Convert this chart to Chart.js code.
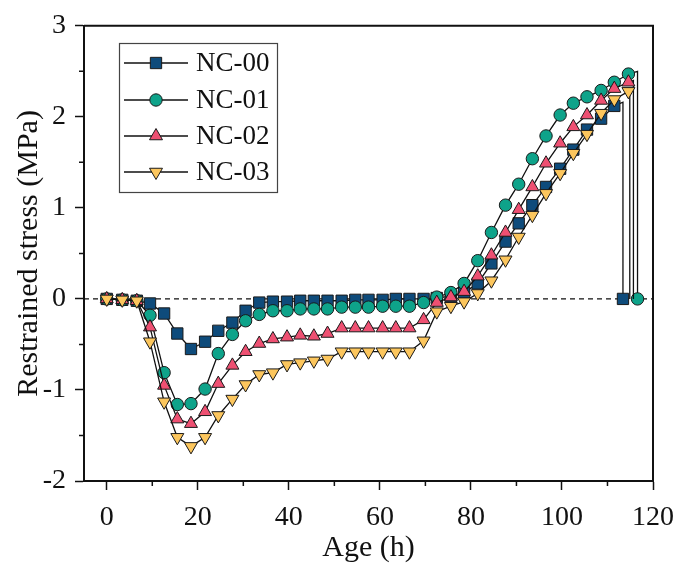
<!DOCTYPE html>
<html>
<head>
<meta charset="utf-8">
<script src="https://cdn.jsdelivr.net/npm/chart.js@4.4.0/dist/chart.umd.min.js"></script>
<style>
    html, body { margin: 0; padding: 0; background: #fff; }
    canvas { display: block; }
</style>
</head>
<body>
<canvas id="stressChart" width="691" height="566"></canvas>
<script>
// ====== DATA ======
const ageHours = [
    0, 3.4, 6.6, 9.5, 12.6, 15.5, 18.5, 21.6, 24.5, 27.6, 30.5, 33.5, 36.5,
    39.6, 42.5, 45.5, 48.5, 51.6, 54.6, 57.5, 60.6, 63.5, 66.5, 69.6, 72.5,
    75.6, 78.5, 81.5, 84.5, 87.6, 90.5, 93.5, 96.5, 99.6, 102.5, 105.5, 108.6,
    111.5, 114.6,
]

const nc00 = [
    0, -0.01, -0.02, -0.05, -0.16, -0.38, -0.55, -0.47, -0.35, -0.26, -0.13,
    -0.04, -0.03, -0.03, -0.02, -0.02, -0.02, -0.02, -0.01, -0.01, -0.01, 0, 0,
    0, 0.01, 0.03, 0.07, 0.17, 0.39, 0.63, 0.83, 1.03, 1.23, 1.43, 1.64, 1.86,
    1.98, 2.12,
]
const nc01 = [
    0, -0.01, -0.02, -0.18, -0.81, -1.16, -1.15, -0.99, -0.6, -0.39, -0.24,
    -0.17, -0.13, -0.13, -0.11, -0.11, -0.11, -0.09, -0.09, -0.09, -0.08, -0.08,
    -0.08, -0.04, 0.02, 0.07, 0.17, 0.42, 0.73, 1.03, 1.26, 1.54, 1.79, 2.02,
    2.15, 2.22, 2.29, 2.38, 2.47,
]
const nc02 = [
    0, -0.01, -0.02, -0.31, -0.95, -1.32, -1.37, -1.24, -0.93, -0.73, -0.58,
    -0.49, -0.44, -0.42, -0.4, -0.41, -0.38, -0.32, -0.32, -0.32, -0.32, -0.32,
    -0.32, -0.23, -0.04, 0.02, 0.08, 0.25, 0.48, 0.73, 0.98, 1.23, 1.49, 1.71,
    1.89, 2.02, 2.18, 2.31, 2.38,
]
const nc03 = [
    0, -0.01, -0.02, -0.47, -1.13, -1.52, -1.62, -1.52, -1.28, -1.1, -0.94,
    -0.83, -0.81, -0.72, -0.7, -0.68, -0.66, -0.58, -0.58, -0.58, -0.58, -0.58,
    -0.58, -0.46, -0.14, -0.08, -0.03, 0.06, 0.2, 0.43, 0.68, 0.92, 1.16, 1.38,
    1.6, 1.81, 2.04, 2.19, 2.28,
]

// specimen failure: stress drops to zero
const nc00Drop = [[113.4, 2.16], [113.4, 0]]
const nc01Drop = [[116.6, 2.5], [116.6, 0]]
const nc02Drop = [[115.7, 2.4], [115.7, 0]]
const nc03Drop = [[114.9, 2.29], [114.9, 0]]

const seriesNames = ['NC-00', 'NC-01', 'NC-02', 'NC-03']
const xTicks = [0, 20, 40, 60, 80, 100, 120]
const yTicks = [-2, -1, 0, 1, 2, 3]
const xRange = [-5, 120]
const yRange = [-2, 3]

// ====== STYLE ======
const FONT = "'Liberation Serif', 'Times New Roman', serif"
const INK = '#111'

const toPoints = (vals, drop) =>
    vals
        .map((v, i) => ({ x: ageHours[i], y: v }))
        .concat(drop.map(([x, y]) => ({ x, y })))

// marker on the last (zero) point only for the first two series
const markerFor = (r, showEnd) => (ctx) => {
    const n = ctx.dataset.data.length
    if (ctx.dataIndex === n - 2) return 0
    if (ctx.dataIndex === n - 1) return showEnd ? r : 0
    return r
}

const makeSeries = (label, vals, drop, style, order) => ({
    label,
    data: toPoints(vals, drop),
    showLine: true,
    borderColor: INK,
    borderWidth: 1.3,
    pointStyle: style.shape,
    rotation: style.rotation || 0,
    pointBackgroundColor: style.fill,
    pointBorderColor: '#1a1a1a',
    pointBorderWidth: 1,
    pointRadius: markerFor(style.r, style.endMarker),
    pointHoverRadius: markerFor(style.r, style.endMarker),
    legendRadius: style.r,
    order,
})

const styles = [
    { shape: 'rect', fill: '#0e4b7b', r: 8, endMarker: true },
    { shape: 'circle', fill: '#0ea38a', r: 6.2, endMarker: true },
    { shape: 'triangle', fill: '#ee5072', r: 7.5 },
    { shape: 'triangle', rotation: 180, fill: '#fcc65d', r: 7.5 },
]

// ====== PLUGINS: frame, minor ticks, legend ======
const framePlugin = {
    id: 'frame',
    afterDraw(chart) {
        const { ctx, chartArea: a, scales } = chart
        ctx.save()
        ctx.strokeStyle = INK
        ctx.lineWidth = 2
        ctx.beginPath()
        ctx.moveTo(a.left, a.top)
        ctx.lineTo(a.right, a.top)
        ctx.lineTo(a.right, a.bottom)
        ctx.stroke()

        ctx.lineWidth = 1.5
        ctx.beginPath()
        for (let i = 0; i < xTicks.length - 1; i++) {
            const px = scales.x.getPixelForValue((xTicks[i] + xTicks[i + 1]) / 2)
            ctx.moveTo(px, a.bottom)
            ctx.lineTo(px, a.bottom + 5)
        }
        for (let i = 0; i < yTicks.length - 1; i++) {
            const py = scales.y.getPixelForValue((yTicks[i] + yTicks[i + 1]) / 2)
            ctx.moveTo(a.left, py)
            ctx.lineTo(a.left - 5, py)
        }
        ctx.stroke()
        ctx.restore()
    },
}

const legendPlugin = {
    id: 'boxLegend',
    afterDraw(chart) {
        const { ctx } = chart
        const box = { x: 119.5, y: 43.5, w: 158, h: 149 }
        const rows = [63, 100, 136, 172]
        ctx.save()
        ctx.strokeStyle = '#444'
        ctx.lineWidth = 1.2
        ctx.strokeRect(box.x, box.y, box.w, box.h)
        ctx.font = `27px ${FONT}`
        ctx.textBaseline = 'middle'
        ctx.fillStyle = INK
        chart.data.datasets
            .filter((ds) => seriesNames.includes(ds.label))
            .forEach((ds, i) => {
                const y = rows[i]
                ctx.strokeStyle = INK
                ctx.lineWidth = 1.3
                ctx.beginPath()
                ctx.moveTo(124, y)
                ctx.lineTo(188, y)
                ctx.stroke()
                ctx.fillStyle = ds.pointBackgroundColor
                ctx.strokeStyle = ds.pointBorderColor
                ctx.lineWidth = 1
                Chart.helpers.drawPoint(
                    ctx,
                    {
                        pointStyle: ds.pointStyle,
                        rotation: ds.rotation,
                        radius: ds.legendRadius,
                        borderWidth: 1,
                    },
                    156,
                    y,
                )
                ctx.fillStyle = INK
                ctx.fillText(ds.label, 196, y + 1)
            })
        ctx.restore()
    },
}

// ====== CHART ======
const ctx = document.getElementById('stressChart').getContext('2d')
const stressChart = new Chart(ctx, {
    type: 'scatter',
    data: {
        datasets: [
            makeSeries(seriesNames[0], nc00, nc00Drop, styles[0], 4),
            makeSeries(seriesNames[1], nc01, nc01Drop, styles[1], 3),
            makeSeries(seriesNames[2], nc02, nc02Drop, styles[2], 2),
            makeSeries(seriesNames[3], nc03, nc03Drop, styles[3], 1),
            {
                label: 'zero',
                data: [
                    { x: xRange[0], y: 0 },
                    { x: xRange[1], y: 0 },
                ],
                showLine: true,
                borderColor: INK,
                borderWidth: 1.3,
                borderDash: [5, 4],
                pointRadius: 0,
                order: 10,
            },
        ],
    },
    options: {
        responsive: false,
        animation: false,
        devicePixelRatio: 1,
        layout: { padding: { left: 0, right: 38, top: 20, bottom: 0 } },
        plugins: {
            legend: { display: false },
            tooltip: { enabled: false },
        },
        scales: {
            x: {
                type: 'linear',
                min: xRange[0],
                max: xRange[1],
                afterBuildTicks: (s) => {
                    s.ticks = xTicks.map((v) => ({ value: v }))
                },
                afterFit: (s) => {
                    s.height = 85
                },
                grid: {
                    drawOnChartArea: false,
                    tickLength: 9,
                    tickWidth: 1.5,
                    tickColor: INK,
                },
                border: { color: INK, width: 2 },
                ticks: {
                    color: INK,
                    padding: 11,
                    maxRotation: 0,
                    font: { family: FONT, size: 28 },
                },
                title: {
                    display: true,
                    text: 'Age (h)',
                    color: INK,
                    padding: { top: 0, bottom: 0 },
                    font: { family: FONT, size: 30 },
                },
            },
            y: {
                type: 'linear',
                min: yRange[0],
                max: yRange[1],
                afterBuildTicks: (s) => {
                    s.ticks = yTicks.map((v) => ({ value: v }))
                },
                afterFit: (s) => {
                    s.width = 84
                },
                grid: {
                    drawOnChartArea: false,
                    tickLength: 9,
                    tickWidth: 1.5,
                    tickColor: INK,
                },
                border: { color: INK, width: 2 },
                ticks: {
                    color: INK,
                    padding: 9,
                    font: { family: FONT, size: 28 },
                },
                title: {
                    display: true,
                    text: 'Restrained stress (MPa)',
                    color: INK,
                    padding: { top: 11, bottom: 0 },
                    font: { family: FONT, size: 30 },
                },
            },
        },
    },
    plugins: [framePlugin, legendPlugin],
})
</script>
</body>
</html>
